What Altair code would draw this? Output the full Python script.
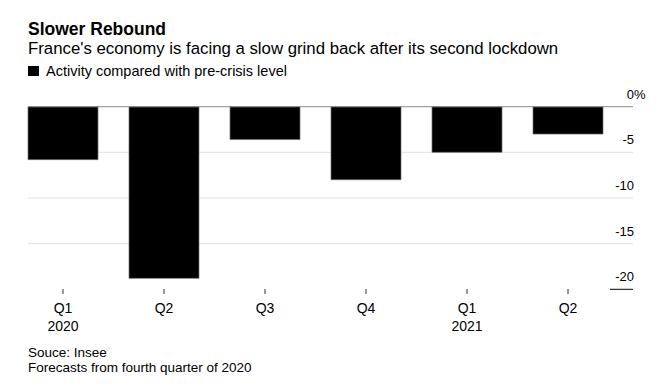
import altair as alt
import pandas as pd

# ---- data ----
period_ids = ["2020 Q1", "2020 Q2", "2020 Q3", "2020 Q4", "2021 Q1", "2021 Q2"]
quarters = ["Q1", "Q2", "Q3", "Q4", "Q1", "Q2"]
years = ["2020", "", "", "", "2021", ""]
activity = [-5.8, -18.8, -3.6, -8.0, -5.0, -3.0]

y_ticks = [0, -5, -10, -15, -20]
y_tick_labels = ["0", "-5", "-10", "-15", "-20"]
grid_vals = [-5, -10, -15]

title_text = "Slower Rebound"
subtitle_text = "France's economy is facing a slow grind back after its second lockdown"
legend_text = "Activity compared with pre-crisis level"
footer_lines = ["Souce: Insee", "Forecasts from fourth quarter of 2020"]

FONT = "Liberation Sans"

bars_df = pd.DataFrame({"id": period_ids, "q": quarters, "yr": years, "value": activity})
ylab_df = pd.DataFrame({"v": y_ticks, "lab": y_tick_labels})
grid_df = pd.DataFrame({"v": grid_vals})
one = pd.DataFrame({"a": [0]})

xscale = alt.Scale(domain=period_ids, range=[20, 595], paddingInner=0.307, paddingOuter=0)
yscale = alt.Scale(domain=[-20, 0], range=[281.3, 98.7], nice=False, zero=False)

X = alt.X("id:N", scale=xscale, axis=None, sort=period_ids, bandPosition=0.5)

grid = alt.Chart(grid_df).mark_rule(color="#e3e3e3", strokeWidth=1).encode(
    y=alt.Y("v:Q", scale=yscale, axis=None), x=alt.value(20), x2=alt.value(625)
)

bars = alt.Chart(bars_df).mark_bar(color="#000000", stroke="#6e6e6e", strokeWidth=0.7).encode(
    x=alt.X("id:N", scale=xscale, axis=None, sort=period_ids),
    y=alt.Y("value:Q", scale=yscale, axis=None),
)

zero_df = pd.DataFrame({"v": [0]})
zero_line = alt.Chart(zero_df).mark_rule(color="#8a8a8a", strokeWidth=1).encode(
    y=alt.Y("v:Q", scale=yscale, axis=None), x=alt.value(20), x2=alt.value(625)
)

bottom_df = pd.DataFrame({"v": [-20]})
bottom_rule = alt.Chart(bottom_df).mark_rule(color="#000000", strokeWidth=1).encode(
    y=alt.Y("v:Q", scale=yscale, axis=None), x=alt.value(602), x2=alt.value(625)
)

ylabels = alt.Chart(ylab_df).mark_text(
    align="right", baseline="alphabetic", dy=-8, font=FONT, fontSize=13, color="#000000"
).encode(y=alt.Y("v:Q", scale=yscale, axis=None), x=alt.value(626), text="lab:N")

pct = alt.Chart(zero_df).mark_text(
    align="left", baseline="alphabetic", dy=-8, font=FONT, fontSize=13, color="#000000"
).encode(y=alt.Y("v:Q", scale=yscale, axis=None), x=alt.value(626), text=alt.value("%"))

ticks = alt.Chart(bars_df).mark_rule(color="#333333", strokeWidth=1).encode(
    x=X, y=alt.value(281), y2=alt.value(286)
)

qlabels = alt.Chart(bars_df).mark_text(
    align="center", baseline="alphabetic", font=FONT, fontSize=14, color="#000000"
).encode(x=X, y=alt.value(305), text="q:N")

ylab_years = alt.Chart(bars_df).mark_text(
    align="center", baseline="alphabetic", font=FONT, fontSize=14, color="#000000"
).encode(x=X, y=alt.value(323), text="yr:N")

title = alt.Chart(one).mark_text(
    align="left", baseline="alphabetic", font=FONT, fontSize=17.5, fontWeight="bold", color="#000000"
).encode(x=alt.value(20), y=alt.value(27), text=alt.value(title_text))

subtitle = alt.Chart(one).mark_text(
    align="left", baseline="alphabetic", font=FONT, fontSize=16.8, color="#000000"
).encode(x=alt.value(20), y=alt.value(45.8), text=alt.value(subtitle_text))

legend_box = alt.Chart(one).mark_rect(color="#000000").encode(
    x=alt.value(20), x2=alt.value(31), y=alt.value(58), y2=alt.value(68)
)

legend_lbl = alt.Chart(one).mark_text(
    align="left", baseline="alphabetic", font=FONT, fontSize=14.5, color="#000000"
).encode(x=alt.value(38), y=alt.value(67.7), text=alt.value(legend_text))

footer1 = alt.Chart(one).mark_text(
    align="left", baseline="alphabetic", font=FONT, fontSize=13.5, color="#000000"
).encode(x=alt.value(20), y=alt.value(348.5), text=alt.value(footer_lines[0]))

footer2 = alt.Chart(one).mark_text(
    align="left", baseline="alphabetic", font=FONT, fontSize=13.5, color="#000000"
).encode(x=alt.value(20), y=alt.value(363.8), text=alt.value(footer_lines[1]))

chart = alt.layer(
    grid, bars, zero_line, bottom_rule, ylabels, pct, ticks, qlabels, ylab_years,
    title, subtitle, legend_box, legend_lbl, footer1, footer2
).properties(
    width=653, height=376, autosize=alt.AutoSizeParams(type="none"), padding=0,
    background="#ffffff"
).configure_view(stroke=None)

chart.save("out.html", embed_options={"renderer": "svg", "actions": False})
